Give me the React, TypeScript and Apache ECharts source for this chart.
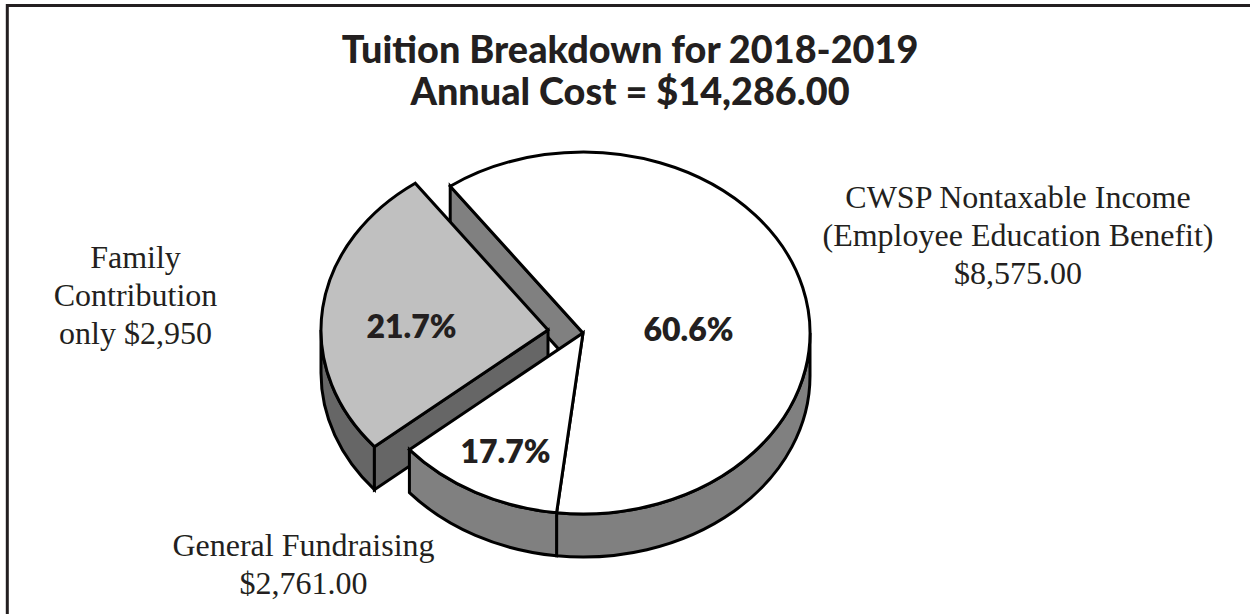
import React, { useEffect, useRef } from "react";
import * as echarts from "echarts";

const sliceNames = ["CWSP Nontaxable Income", "General Fundraising", "Family Contribution"];
const printedPercent = ["60.6%", "17.7%", "21.7%"];
// Share of the ellipse that each wedge actually occupies in the drawing, in percent.
const drawnShare = [61.8, 12.0, 26.2];
const explodedFlag = [0, 0, 1];
const titleLines = ["Tuition Breakdown for 2018-2019", "Annual Cost = $14,286.00"];
const outerLabels = [
  "CWSP Nontaxable Income\n(Employee Education Benefit)\n$8,575.00",
  "General Fundraising\n$2,761.00",
  "Family\nContribution\nonly $2,950",
];

const CX = 583;
const CY = 333;
const RX = 227;
const RY = 181;
const DEPTH = 43;
const START = -35.8;
const EXPLODE = [-35, -3];
const TOP_WHITE = "#ffffff";
const SIDE_MID = "#808080";
const SIDE_DARK = "#666666";
const TOP_GREY = "#c0c0c0";
const INK = "#000000";
const TEXT = "#231f20";
const LINE_W = 3;

const rad = (t: number) => (t * Math.PI) / 180;
const pt = (cx: number, cy: number, t: number) => [cx + RX * Math.sin(rad(t)), cy - RY * Math.cos(rad(t))];
const f = (n: number) => n.toFixed(2);

function wedgePath(cx: number, cy: number, a: number, b: number) {
  const p = pt(cx, cy, a);
  const q = pt(cx, cy, b);
  const large = b - a > 180 ? 1 : 0;
  return `M${f(cx)} ${f(cy)}L${f(p[0])} ${f(p[1])}A${RX} ${RY} 0 ${large} 1 ${f(q[0])} ${f(q[1])}Z`;
}
function rimPath(cx: number, cy: number, a: number, b: number) {
  const p = pt(cx, cy, a);
  const q = pt(cx, cy, b);
  return `M${f(p[0])} ${f(p[1])}A${RX} ${RY} 0 0 1 ${f(q[0])} ${f(q[1])}L${f(q[0])} ${f(q[1] + DEPTH)}A${RX} ${RY} 0 0 0 ${f(p[0])} ${f(p[1] + DEPTH)}Z`;
}
function radialPath(cx: number, cy: number, t: number) {
  const p = pt(cx, cy, t);
  return `M${f(cx)} ${f(cy)}L${f(p[0])} ${f(p[1])}L${f(p[0])} ${f(p[1] + DEPTH)}L${f(cx)} ${f(cy + DEPTH)}Z`;
}

const labelPositions = [
  [688.5, 328.5],
  [505.5, 450.5],
  [411.5, 325.5],
];

export default function App() {
  const ref = useRef<HTMLDivElement>(null);
  useEffect(() => {
    const chart = echarts.init(ref.current!, null, { renderer: "svg" });
    const total = drawnShare.reduce((s, v) => s + v, 0);
    const shape = (d: string, fill: string, z2: number) => ({
      type: "path",
      z2,
      shape: { pathData: d },
      style: { fill, stroke: INK, lineWidth: LINE_W, lineJoin: "miter" },
    });

    const renderItem = (params: any, api: any) => {
      const i = params.dataIndex;
      let a = START;
      for (let k = 0; k < i; k++) a += (drawnShare[k] / total) * 360;
      const b = a + (api.value(0) / total) * 360;
      const ex = api.value(1) === 1;
      const cx = CX + (ex ? EXPLODE[0] : 0);
      const cy = CY + (ex ? EXPLODE[1] : 0);
      const children: any[] = [];
      if (i === 0) {
        children.push(shape(radialPath(cx, cy, a), SIDE_MID, 1));
        children.push(shape(rimPath(cx, cy, 90, b), SIDE_MID, 10));
        children.push(shape(wedgePath(cx, cy, a, b), TOP_WHITE, 11));
      } else if (i === 1) {
        children.push(shape(rimPath(cx, cy, a, b), SIDE_MID, 10));
        children.push(shape(wedgePath(cx, cy, a, b), TOP_WHITE, 11));
      } else {
        children.push(shape(rimPath(cx, cy, a, 270), SIDE_DARK, 2));
        children.push(shape(radialPath(cx, cy, a), SIDE_DARK, 2));
        children.push(shape(wedgePath(cx, cy, a, b), TOP_GREY, 3));
      }
      children.push({
        type: "text",
        z2: 20,
        x: labelPositions[i][0],
        y: labelPositions[i][1],
        style: {
          text: printedPercent[i],
          fill: TEXT,
          font: "800 32px Lato",
          textAlign: "center",
          textVerticalAlign: "middle",
        },
      });
      return { type: "group", children };
    };

    chart.setOption({
      animation: false,
      backgroundColor: "#ffffff",
      graphic: [
        {
          type: "rect",
          shape: { x: 7.3, y: 5.5, width: 1260, height: 640 },
          style: { fill: "none", stroke: "#231f20", lineWidth: 3 },
          silent: true,
        },
        {
          type: "text",
          x: 630,
          y: 69.5,
          style: {
            text: titleLines.join("\n"),
            fill: TEXT,
            font: "900 37.8px Lato",
            lineHeight: 41.5,
            textAlign: "center",
            textVerticalAlign: "middle",
          },
        },
        ...[
          { x: 1018, y: 235 },
          { x: 303.5, y: 563.5 },
          { x: 135.5, y: 295 },
        ].map((p, i) => ({
          type: "text",
          x: p.x,
          y: p.y,
          style: {
            text: outerLabels[i],
            fill: TEXT,
            font: "32px 'Liberation Serif'",
            lineHeight: 38,
            textAlign: "center",
            textVerticalAlign: "middle",
          },
        })),
      ],
      series: [
        {
          type: "custom",
          coordinateSystem: "none",
          silent: true,
          data: drawnShare.map((v, i) => ({ name: sliceNames[i], value: [v, explodedFlag[i]] })),
          renderItem,
        },
      ],
    });

    return () => chart.dispose();
  }, []);
  return <div ref={ref} style={{ position: "fixed", left: 0, top: 0, width: 1250, height: 614 }} />;
}
